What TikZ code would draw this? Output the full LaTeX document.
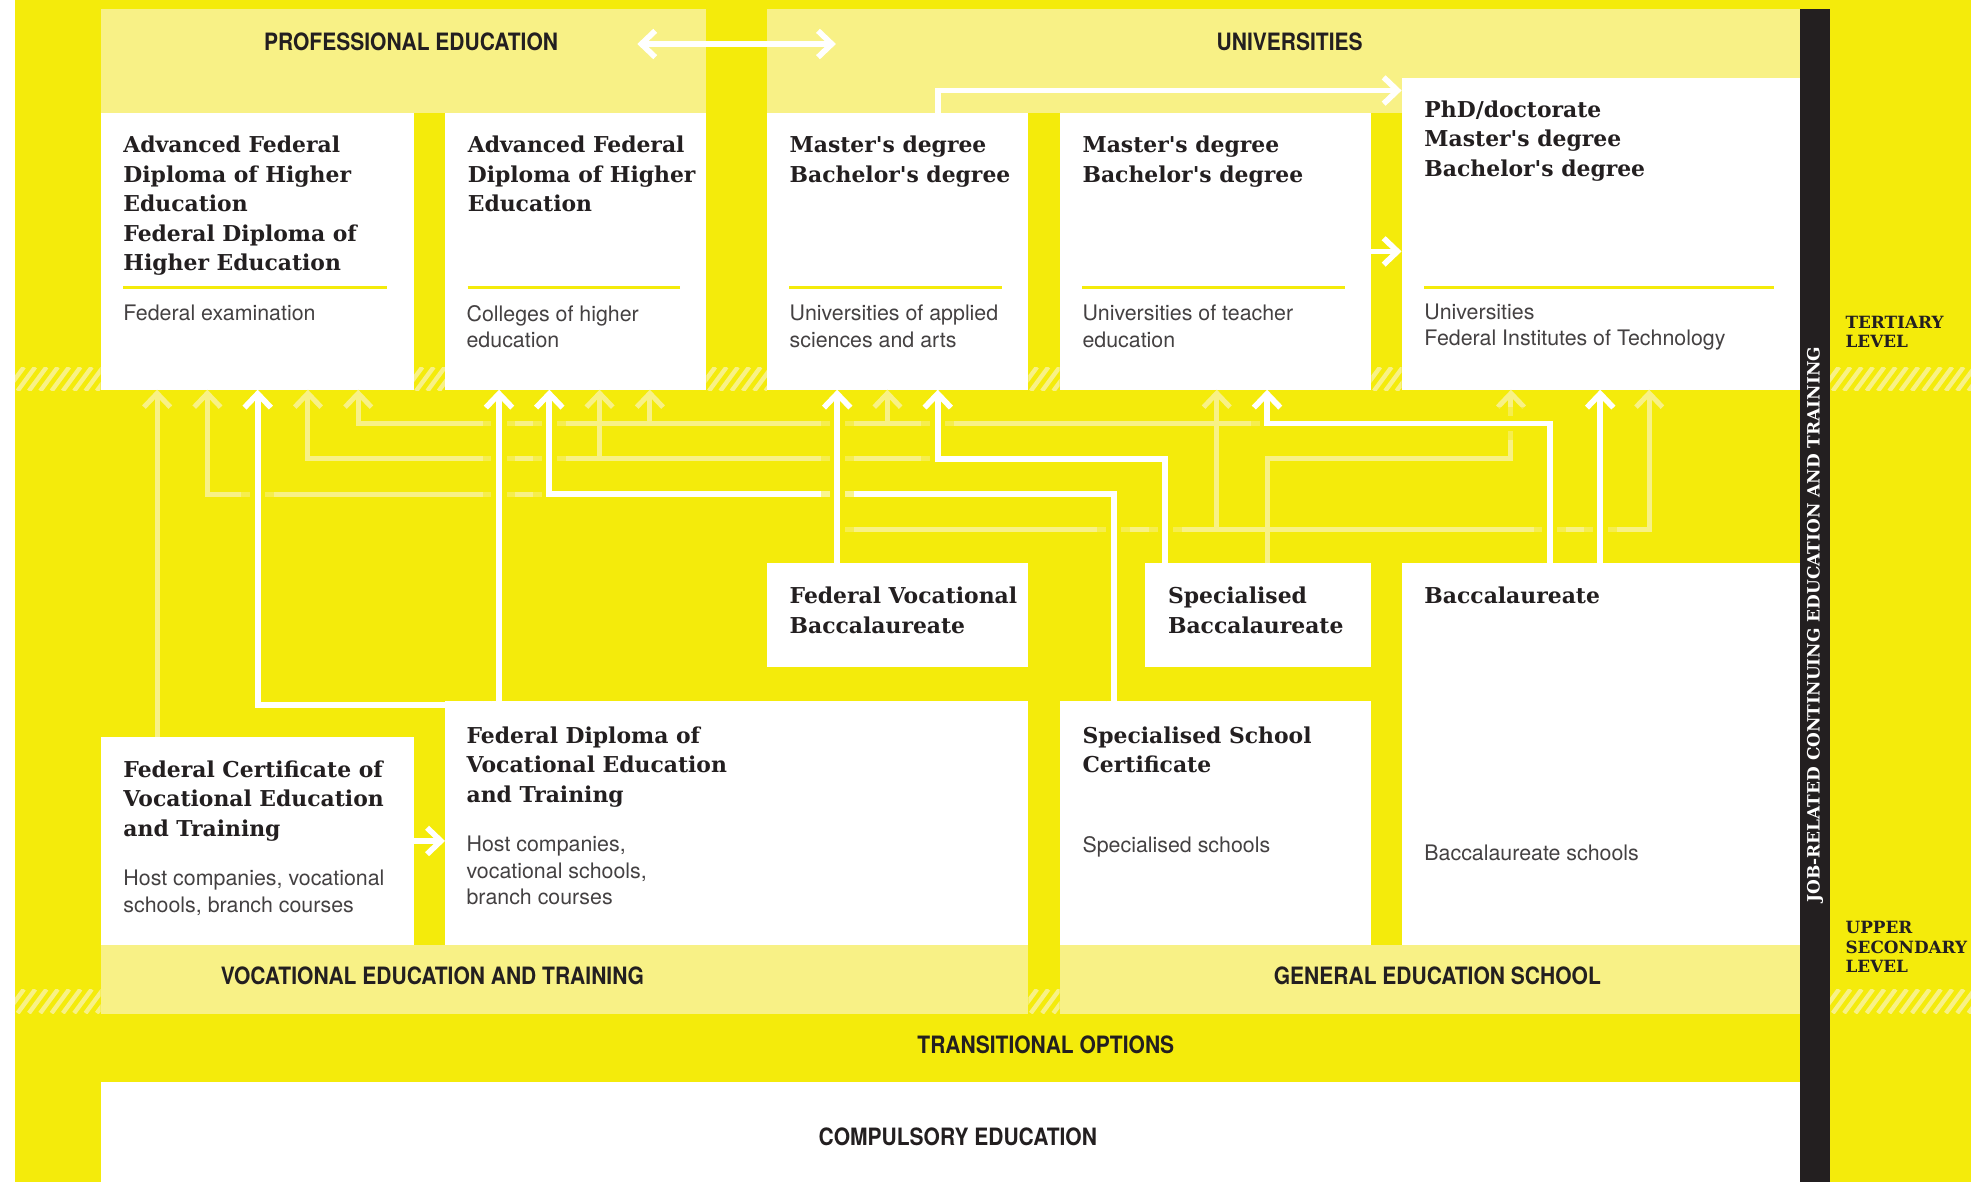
\documentclass[tikz,border=0pt]{standalone}
\usepackage{fontspec}
\setmainfont{TeX Gyre Heros}
\newfontfamily\slabfont{DejaVu Serif}
\newfontfamily\headfont{TeX Gyre Heros}[FakeStretch=0.88]
\usetikzlibrary{math, calc, arrows.meta}

\definecolor{chyellow}{RGB}{244,235,11}
\definecolor{chpale}{RGB}{248,241,134}
\definecolor{chink}{RGB}{35,31,32}

\tikzset{
    box/.style={fill=white, inner sep=0pt, outer sep=0pt, anchor=north west},
    band/.style={fill=chpale, inner sep=0pt, outer sep=0pt, anchor=north west},
    degree/.style={anchor=north west, inner sep=0pt, align=left, text=chink,
        font=\slabfont\bfseries\fontsize{17.4}{23.5}\selectfont},
    school/.style={anchor=north west, inner sep=0pt, align=left, text=chink!85,
        font=\fontsize{17}{21}\selectfont},
    heading/.style={inner sep=0pt, text=chink, font=\headfont\bfseries\fontsize{19}{22}\selectfont},
    levellabel/.style={anchor=north west, inner sep=0pt, align=left, text=chink,
        font=\slabfont\bfseries\fontsize{13.4}{15.3}\selectfont},
    bartext/.style={inner sep=0pt, text=white, font=\slabfont\bfseries\fontsize{13.5}{15}\selectfont},
    barb/.style={-{Straight Barb[length=11pt, width=21pt]}},
    barbs/.style={{Straight Barb[length=11pt, width=21pt]}-{Straight Barb[length=11pt, width=21pt]}},
    wline/.style={draw=white, line width=4.5pt},
    wcross/.style={wline, preaction={draw=chyellow, line width=26pt, opacity=0.45, -},
        preaction={draw=chyellow, line width=12pt, -}},
    pline/.style={draw=chpale, line width=4pt},
    hatchline/.style={draw=chpale, line width=3.5pt},
    rule/.style={draw=chyellow, line width=2.5pt},
}

\begin{document}
\begin{tikzpicture}[x=1pt, y=-1pt]
    \tikzmath{
        \pagew=1568;
        \pageh=940;
        \rowa=337;
        \rowb=365;
        \rowc=393;
        \rowd=421;
    }

    \useasboundingbox (0, 0) rectangle (\pagew, \pageh);
    \fill [white] (0, 0) rectangle (\pagew, \pageh);
    \fill [chyellow] (12, 0) rectangle (\pagew, \pageh);

    % hatched level borders
    \foreach \xa/\xb/\ya in {12/80/292, 329/354/292, 562/610/292, 818/843/292, 1091/1115/292,
                             1456/1568/292, 12/80/787, 818/843/787, 1456/1568/787} {
        \begin{scope}
            \clip (\xa, \ya) rectangle (\xb, \ya+19);
            \foreach \k in {0, ..., 15}
                \draw [hatchline] (\xa-16+\k*9, \ya+19) -- ++(14, -19);
        \end{scope}
    }

    % bands
    \node [band, minimum width=482pt, minimum height=83pt] (profband) at (80, 7) {};
    \node [band, minimum width=822pt, minimum height=83pt] (uniband) at (610, 7) {};
    \node [band, minimum width=738pt, minimum height=55pt] (vetband) at (80, 752) {};
    \node [band, minimum width=589pt, minimum height=55pt] (gesband) at (843, 752) {};
    \node [box, minimum width=1352pt, minimum height=79pt] (compulsory) at (80, 861) {};
    \node [box, fill=chink, minimum width=24pt, minimum height=933pt] (jobbar) at (1432, 7) {};

    % tertiary level
    \node [box, minimum width=249pt, minimum height=220pt] (afd1) at (80, 90) {};
    \node [box, minimum width=208pt, minimum height=220pt] (afd2) at (354, 90) {};
    \node [box, minimum width=208pt, minimum height=220pt] (mba1) at (610, 90) {};
    \node [box, minimum width=248pt, minimum height=220pt] (mba2) at (843, 90) {};
    \node [box, minimum width=317pt, minimum height=248pt] (phd) at (1115, 62) {};

    % upper secondary level
    \node [box, minimum width=208pt, minimum height=83pt] (fvb) at (610, 448) {};
    \node [box, minimum width=180pt, minimum height=83pt] (sbac) at (911, 448) {};
    \node [box, minimum width=317pt, minimum height=304pt] (bacc) at (1115, 448) {};
    \node [box, minimum width=249pt, minimum height=166pt] (fcvet) at (80, 586) {};
    \node [box, minimum width=464pt, minimum height=194pt] (fdvet) at (354, 558) {};
    \node [box, minimum width=248pt, minimum height=194pt] (ssc) at (843, 558) {};

    \foreach \b in {afd1, afd2, mba1, mba2, phd}
        \draw [rule] ($ (\b.south west) + (18, -81) $) -- ($ (\b.south east) + (-21, -81) $);

    % arrow columns and rows
    \coordinate (t11) at ($ (afd1.south west) + (45, 0) $);
    \coordinate (t12) at ($ (afd1.south west) + (85, 0) $);
    \coordinate (t13) at ($ (afd1.south west) + (125, 0) $);
    \coordinate (t14) at ($ (afd1.south west) + (165, 0) $);
    \coordinate (t15) at ($ (afd1.south west) + (205, 0) $);
    \coordinate (t21) at ($ (afd2.south west) + (43, 0) $);
    \coordinate (t22) at ($ (afd2.south west) + (83, 0) $);
    \coordinate (t23) at ($ (afd2.south west) + (123, 0) $);
    \coordinate (t24) at ($ (afd2.south west) + (163, 0) $);
    \coordinate (t31) at ($ (mba1.south west) + (56, 0) $);
    \coordinate (t32) at ($ (mba1.south west) + (96, 0) $);
    \coordinate (t33) at ($ (mba1.south west) + (136, 0) $);
    \coordinate (t41) at ($ (mba2.south west) + (125, 0) $);
    \coordinate (t42) at ($ (mba2.south west) + (165, 0) $);
    \coordinate (t51) at ($ (phd.south west) + (87, 0) $);
    \coordinate (t52) at ($ (phd.south west) + (158, 0) $);
    \coordinate (t53) at ($ (phd.south west) + (197, 0) $);
    \coordinate (r1) at (0, \rowa);
    \coordinate (r2) at (0, \rowb);
    \coordinate (r3) at (0, \rowc);
    \coordinate (r4) at (0, \rowd);

    % pale connectors
    \draw [pline, barb] (fcvet.north -| t11) -- (t11);
    \draw [pline, barb] (t22 |- r3) -| (t12);
    \draw [pline, barb] (t33 |- r2) -| (t14);
    \draw [pline, barb] (t23 |- r2) -- (t23);
    \draw [pline, barb] (t42 |- r1) -| (t15);
    \draw [pline, barb] (t24 |- r1) -- (t24);
    \draw [pline, barb] (t32 |- r1) -- (t32);
    \draw [pline, barb] (t31 |- r4) -| (t53);
    \draw [pline, barb] (t41 |- r4) -- (t41);
    \draw [pline, barb] (sbac.north -| t42) |- (t51 |- r2) -- (t51);

    % white connectors
    \draw [wcross, barb] ([yshift=-3pt] fdvet.north west) -| (t13);
    \draw [wcross, barb] (fdvet.north -| t21) -- (t21);
    \draw [wcross, barb] ($ (ssc.north west) + (43, 0) $) |- (t22 |- r3) -- (t22);
    \draw [wcross, barb] (fvb.north -| t31) -- (t31);
    \draw [wcross, barb] ($ (sbac.north west) + (16, 0) $) |- (t33 |- r2) -- (t33);
    \draw [wcross, barb] ($ (bacc.north west) + (118, 0) $) |- (t42 |- r1) -- (t42);
    \draw [wcross, barb] (bacc.north -| t52) -- (t52);
    \draw [wline, barb] (mba1.north -| t33) |- ([yshift=-10pt] phd.north west);
    \draw [wline, barb] (mba2.east) -- (mba2.east -| phd.west);
    \draw [wline, barb] (fcvet.east) -- (fcvet.east -| fdvet.west);
    \draw [wline, barbs, shorten <=-55pt, shorten >=-55pt]
        ([yshift=13.5pt] profband.east) -- ([yshift=13.5pt] uniband.west);

    % headings
    \node [heading] (proftxt) at ($ (profband.north) + (6, 26) $) {PROFESSIONAL EDUCATION};
    \node [heading] (unitxt) at ($ (uniband.north) + (5, 26) $) {UNIVERSITIES};
    \node [heading] (vettxt) at ($ (vetband.west) + (264, -3.5) $) {VOCATIONAL EDUCATION AND TRAINING};
    \node [heading] (gestxt) at ($ (gesband.center) + (6, -3.5) $) {GENERAL EDUCATION SCHOOL};
    \node [heading] (transtxt) at ($ (compulsory.north) + (76, -30) $) {TRANSITIONAL OPTIONS};
    \node [heading] (comptxt) at ($ (compulsory.center) + (6, 3.5) $) {COMPULSORY EDUCATION};

    % degrees
    \node [degree] (afd1deg) at ($ (afd1.north west) + (18, 18) $)
        {Advanced Federal\\Diploma of Higher\\Education\\Federal Diploma of\\Higher Education};
    \node [degree] (afd2deg) at ($ (afd2.north west) + (18, 18) $)
        {Advanced Federal\\Diploma of Higher\\Education};
    \node [degree] (mba1deg) at ($ (mba1.north west) + (18, 18) $) {Master's degree\\Bachelor's degree};
    \node [degree] (mba2deg) at ($ (mba2.north west) + (18, 18) $) {Master's degree\\Bachelor's degree};
    \node [degree] (phddeg) at ($ (phd.north west) + (18, 18) $)
        {PhD/doctorate\\Master's degree\\Bachelor's degree};
    \node [degree] (fvbdeg) at ($ (fvb.north west) + (18, 19) $) {Federal Vocational\\Baccalaureate};
    \node [degree] (sbacdeg) at ($ (sbac.north west) + (18, 19) $) {Specialised\\Baccalaureate};
    \node [degree] (baccdeg) at ($ (bacc.north west) + (18, 19) $) {Baccalaureate};
    \node [degree] (fcvetdeg) at ($ (fcvet.north west) + (18, 19) $)
        {Federal Certificate of\\Vocational Education\\and Training};
    \node [degree] (fdvetdeg) at ($ (fdvet.north west) + (17, 20) $)
        {Federal Diploma of\\Vocational Education\\and Training};
    \node [degree] (sscdeg) at ($ (ssc.north west) + (18, 20) $) {Specialised School\\Certificate};

    % schools
    \node [school] (afd1sch) at ($ (afd1.south west) + (18, -67.5) $) {Federal examination};
    \node [school] (afd2sch) at ($ (afd2.south west) + (17, -67.5) $) {Colleges of higher\\education};
    \node [school] (mba1sch) at ($ (mba1.south west) + (18, -67.5) $) {Universities of applied\\sciences and arts};
    \node [school] (mba2sch) at ($ (mba2.south west) + (18, -67.5) $) {Universities of teacher\\education};
    \node [school] (phdsch) at ($ (phd.south west) + (18, -68.5) $) {Universities\\Federal Institutes of Technology};
    \node [school] (fcvetsch) at ($ (fcvet.north west) + (18, 106) $) {Host companies, vocational\\schools, branch courses};
    \node [school] (fdvetsch) at ($ (fdvet.north west) + (17, 107) $) {Host companies,\\vocational schools,\\branch courses};
    \node [school] (sscsch) at ($ (ssc.north west) + (18, 107) $) {Specialised schools};
    \node [school] (baccsch) at ($ (bacc.north west) + (18, 224) $) {Baccalaureate schools};

    % levels
    \node [bartext, rotate=90] (jobtxt) at ($ (jobbar.center) + (0, 23.5) $)
        {JOB-RELATED CONTINUING EDUCATION AND TRAINING};
    \node [levellabel] (tertiary) at ($ (jobbar.north east) + (12, 244) $) {TERTIARY\\LEVEL};
    \node [levellabel] (upper) at ($ (jobbar.north east) + (12, 726) $) {UPPER\\SECONDARY\\LEVEL};
\end{tikzpicture}
\end{document}
